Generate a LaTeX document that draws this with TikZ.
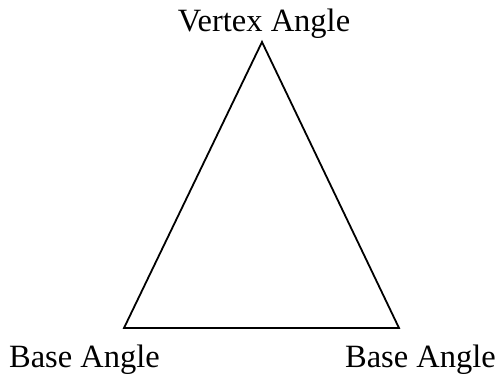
\documentclass[tikz,border=0pt]{standalone}
\usepackage{fontspec}
\setmainfont{Liberation Serif}
\begin{document}
\begin{tikzpicture}[x=1pt,y=-1pt,
  lbl/.style={anchor=base,inner sep=0pt,font=\fontsize{32.5}{38}\selectfont},
  edge/.style={line width=1.8pt,line join=miter}]
\useasboundingbox (0,0) rectangle (498,377);
\coordinate (apex) at (262,42);
\coordinate (bl) at (124,328);
\coordinate (br) at (399,328);
\draw[edge] (apex) -- (bl) -- (br) -- cycle;
\node[lbl] (v) at (264,32) {Vertex Angle};
\node[lbl] (l) at (84.5,367) {Base Angle};
\node[lbl] (r) at (420.5,367) {Base Angle};
\end{tikzpicture}
\end{document}
